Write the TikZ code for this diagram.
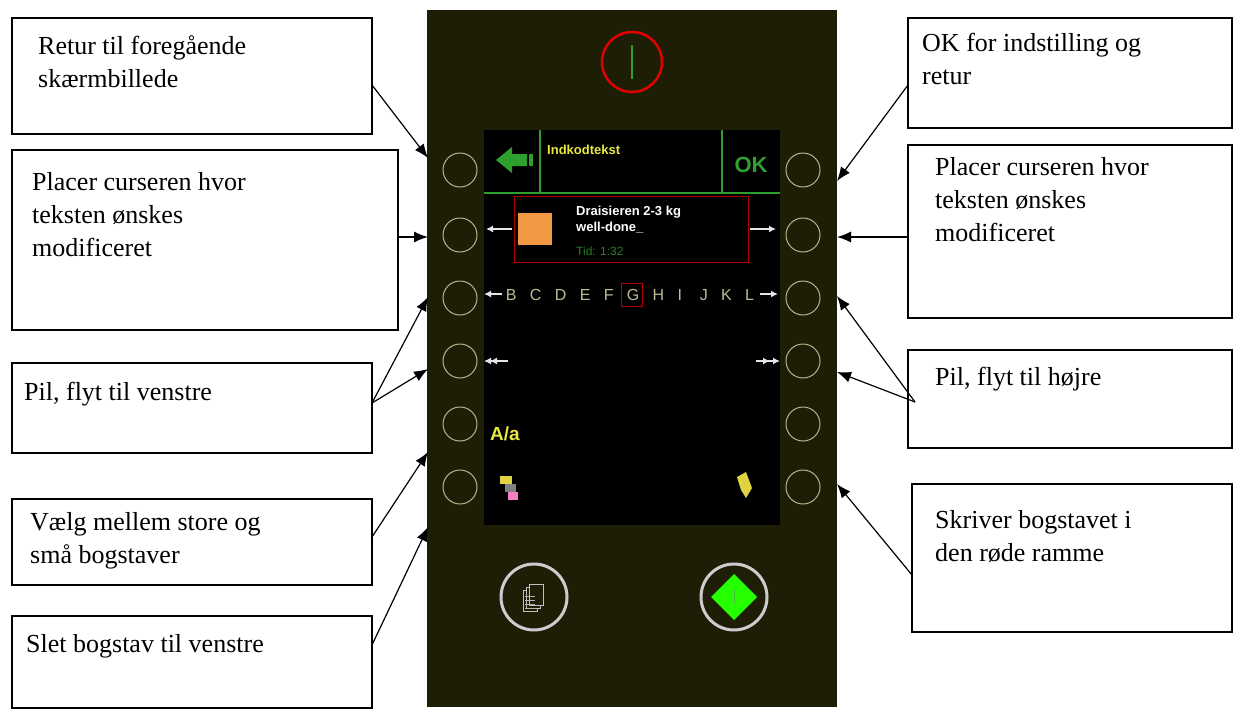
\documentclass[tikz,border=0pt]{standalone}
\usepackage{fontspec}
\usetikzlibrary{arrows.meta}
\setmainfont{Liberation Serif}
\newfontfamily\uisans{Liberation Sans}
\begin{document}
\begin{tikzpicture}[x=1pt,y=-1pt,
  lbox/.style={draw,line width=1.3pt,fill=white},
  ltext/.style={anchor=north west,align=left,font=\fontsize{26}{33}\selectfont,inner sep=0pt},
  conn/.style={-{Latex[length=14pt,width=11pt]},line width=1.2pt},
  sarr/.style={-{Latex[length=7pt,width=7pt]},white!80!gray,line width=2pt},
  sbtn/.style={draw=btnc,line width=1pt,fill=none},
  scr/.style={font=\uisans\bfseries\fontsize{13}{16}\selectfont,inner sep=0pt}]
\definecolor{body}{HTML}{1E1E07}
\definecolor{btnc}{HTML}{B8B48A}
\definecolor{okg}{HTML}{2EA02E}
\definecolor{yel}{HTML}{E8E840}
\useasboundingbox (0,0) rectangle (1243,715);
\fill[white] (0,0) rectangle (1243,715);
% device
\fill[body] (427,10) rectangle (837,707);
\draw[red!90!black,line width=2.5pt] (632,62) circle (30);
\draw[okg,line width=2.5pt] (632,45) -- (632,79);
\fill[black] (484,130) rectangle (780,525);
\draw[okg,line width=2pt] (484,193) -- (780,193) (540,130) -- (540,193) (722,130) -- (722,193);
\fill[okg] (496,160) -- (512,147) -- (512,154) -- (527,154) -- (527,166) -- (512,166) -- (512,173) -- cycle;
\fill[okg] (529,154) rectangle (533,166);
\node[scr,text=yel,anchor=north west] (title) at (547,145) {Indkodtekst};
\node[scr,text=okg,font=\uisans\bfseries\fontsize{22}{24}\selectfont] (ok) at (751,165) {OK};
\draw[red!70!black,line width=1pt] (514,196) rectangle (748,262);
\fill[orange!70!brown!80] (518,213) rectangle (552,245);
\node[scr,text=white,anchor=north west,align=left] (dr) at (576,206) {Draisieren 2-3 kg\\well-done\_};
\node[scr,text=okg!80!black,anchor=north west,font=\uisans\fontsize{12}{14}\selectfont] (tid) at (576,247) {Tid: 1:32};
\draw[sarr] (512,229) -- (486,229);
\draw[sarr] (750,229) -- (776,229);
\draw[sarr] (502,294) -- (484,294);
\draw[sarr] (760,294) -- (778,294);
\node[scr,text=btnc!90!white,font=\uisans\fontsize{16}{18}\selectfont] (letters) at (630,295) {B\ \ \ C\ \ \ D\ \ \ E\ \ \ F\ \ \ G\ \ \ H\ \ \ I\ \ \ \ J\ \ \ K\ \ \ L};
\draw[red!70!black,line width=1pt] (621,283) rectangle (642,306);
\draw[sarr] (508,361) -- (490,361);
\draw[sarr] (496,361) -- (484,361);
\draw[sarr] (756,361) -- (770,361);
\draw[sarr] (766,361) -- (780,361);
\node[scr,text=yel,font=\uisans\bfseries\fontsize{19}{21}\selectfont] (aa) at (505,434) {A/a};
\fill[magenta!50] (508,492) rectangle (518,500);
\fill[gray] (505,484) rectangle (516,492);
\fill[yel!80!brown] (500,476) rectangle (512,484);
\fill[yel!80!brown] (737,477) -- (746,472) -- (752,488) -- (746,498) -- (741,490) -- cycle;
% side buttons
\foreach \y [count=\i] in {170,235,298,361,424,487} {
  \draw[sbtn] (460,\y) circle (17);
  \draw[sbtn] (803,\y) circle (17);
}
% bottom buttons
\draw[gray!40,line width=3pt] (534,597) circle (33);
\foreach \d in {0,3,6} \draw[gray!50,fill=body,line width=1pt] (523+\d,590-\d) rectangle (537+\d,611-\d);
\foreach \yy in {596,600,604,608} \draw[gray!60,line width=1pt] (525,\yy) -- (535,\yy);
\draw[gray!40,line width=3pt] (734,597) circle (33);
\fill[green!80!lime] (734,574) -- (757,597) -- (734,620) -- (711,597) -- cycle;
\draw[green!50!gray,line width=1pt] (734,590) -- (734,604);
% left boxes
\draw[lbox] (12,18) rectangle (372,134);
\node[ltext] (t1) at (38,35) {Retur til foregående\\skærmbillede};
\draw[lbox] (12,150) rectangle (398,330);
\node[ltext] (t2) at (32,172) {Placer curseren hvor\\teksten ønskes\\modificeret};
\draw[lbox] (12,363) rectangle (372,453);
\node[ltext] (t3) at (24,382) {Pil, flyt til venstre};
\draw[lbox] (12,499) rectangle (372,585);
\node[ltext] (t4) at (30,512) {Vælg mellem store og\\små bogstaver};
\draw[lbox] (12,616) rectangle (372,708);
\node[ltext] (t5) at (26,634) {Slet bogstav til venstre};
% right boxes
\draw[lbox] (908,18) rectangle (1232,128);
\node[ltext] (u1) at (922,33) {OK for indstilling og\\retur};
\draw[lbox] (908,145) rectangle (1232,318);
\node[ltext] (u2) at (935,157) {Placer curseren hvor\\teksten ønskes\\modificeret};
\draw[lbox] (908,350) rectangle (1232,448);
\node[ltext] (u3) at (935,367) {Pil, flyt til højre};
\draw[lbox] (912,484) rectangle (1232,632);
\node[ltext] (u4) at (935,510) {Skriver bogstavet i\\den røde ramme};
% connectors
\coordinate (a1) at (372,85); \coordinate (a2) at (398,237);
\coordinate (a3) at (372,403); \coordinate (a4) at (372,537); \coordinate (a5) at (372,645);
\coordinate (b1) at (908,85); \coordinate (b2) at (908,237);
\coordinate (b3) at (915,402); \coordinate (b4) at (912,575);
\coordinate (L1) at (428,158); \coordinate (L2) at (428,237);
\coordinate (L3) at (428,297); \coordinate (L4) at (428,369);
\coordinate (L5) at (428,452); \coordinate (L6) at (428,527);
\coordinate (R1) at (837,181); \coordinate (R2) at (837,237);
\coordinate (R3) at (837,296); \coordinate (R4) at (837,372);
\coordinate (R6) at (837,484);
\draw[conn] (a1) -- (L1);
\draw[conn] (a2) -- (L2);
\draw[conn] (a3) -- (L3);
\draw[conn] (a3) -- (L4);
\draw[conn] (a4) -- (L5);
\draw[conn] (a5) -- (L6);
\draw[conn] (b1) -- (R1);
\draw[conn] (b2) -- (R2);
\draw[conn] (b3) -- (R3);
\draw[conn] (b3) -- (R4);
\draw[conn] (b4) -- (R6);
\end{tikzpicture}
\end{document}
